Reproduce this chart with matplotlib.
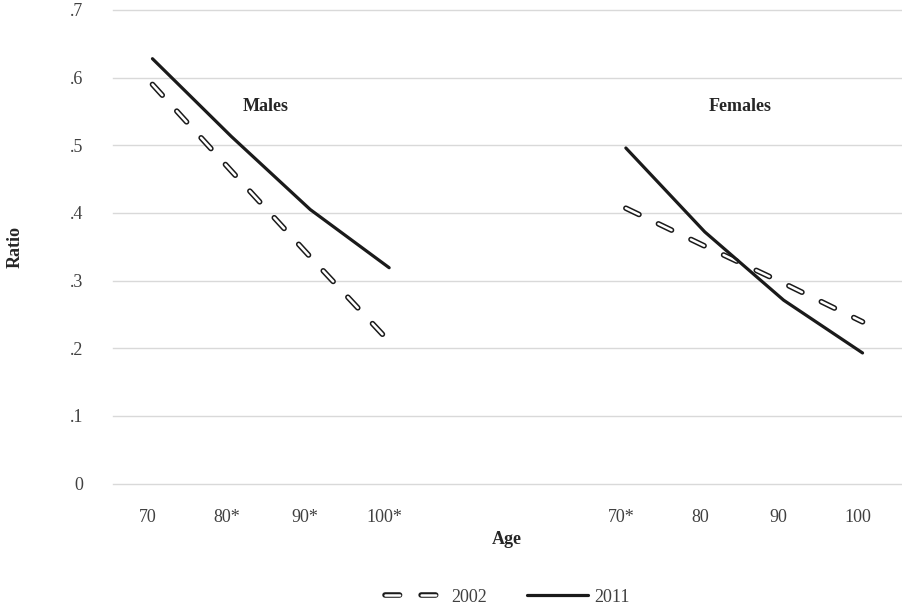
import matplotlib
matplotlib.use("Agg")
import matplotlib.pyplot as plt
import numpy as np
from matplotlib.lines import Line2D
from matplotlib.ticker import FuncFormatter
from matplotlib.transforms import ScaledTranslation

plt.rcParams['font.family'] = ['Liberation Serif', 'DejaVu Serif']
plt.rcParams['lines.scale_dashes'] = False

# ---- data ----
categories = ['70', '80*', '90*', '100*', '', '', '70*', '80', '90', '100']
male_pos = [0, 1, 2, 3]
female_pos = [6, 7, 8, 9]
males_2002 = [0.590, 0.462, 0.335, 0.210]
males_2011 = [0.628, 0.513, 0.405, 0.319]
females_2002 = [0.407, 0.351, 0.296, 0.239]
females_2011 = [0.496, 0.372, 0.271, 0.193]
yticks = [0, 0.1, 0.2, 0.3, 0.4, 0.5, 0.6, 0.7]

fig = plt.figure(figsize=(9.02, 6.12), dpi=100)
ax = fig.add_axes([113/902, 128.5/612, 789/902, 473.5/612])

dash = (0, (10.5, 15.5))
outer_lw, inner_lw = 4.0, 1.8

def dashed(x, y):
    a, = ax.plot(x, y, color='#1a1a1a', lw=outer_lw, linestyle=dash,
                 dash_capstyle='round', solid_capstyle='round', zorder=3)
    b, = ax.plot(x, y, color='white', lw=inner_lw, linestyle=dash,
                 dash_capstyle='round', solid_capstyle='round', zorder=4)
    return a, b

def solid(x, y):
    l, = ax.plot(x, y, color='#1a1a1a', lw=2.3, solid_capstyle='round', zorder=5)
    return l

h2002 = dashed(male_pos, males_2002)
dashed(female_pos, females_2002)
h2011 = solid(male_pos, males_2011)
solid(female_pos, females_2011)

ax.set_xlim(-0.5, 9.5)
ax.set_ylim(0, 0.7)
ax.set_yticks(yticks)
ax.yaxis.set_major_formatter(FuncFormatter(lambda v, p: '0' if abs(v) < 1e-9 else ('%.1f' % v)[1:]))
ax.set_xticks(range(len(categories)))
ax.set_xticklabels(categories)
ax.grid(axis='y', color='#d9d9d9', lw=1.0, zorder=0)
for gl in ax.get_ygridlines():
    gl.set_clip_on(False)
ax.set_axisbelow(True)
for s in ax.spines.values():
    s.set_visible(False)
ax.tick_params(axis='both', length=0, labelsize=13, colors='#404040')
ax.tick_params(axis='y', pad=21.6)
ax.tick_params(axis='x', pad=18)
off = ScaledTranslation(-5/100, 0, fig.dpi_scale_trans)
for lab in ax.get_xticklabels():
    lab.set_transform(lab.get_transform() + off)

ax.text(1.43, 0.558, 'Males', ha='center', va='center', fontsize=13,
        fontweight='bold', color='#262626')
ax.text(7.45, 0.558, 'Females', ha='center', va='center', fontsize=13,
        fontweight='bold', color='#262626')

fig.text(507/902, 1 - 540/612, 'Age', ha='center', va='center', fontsize=13,
         fontweight='bold', color='#262626')
fig.text(15/902, 1 - 247/612, 'Ratio', ha='center', va='center', rotation=90,
         fontsize=13, fontweight='bold', color='#262626')

leg = fig.legend([h2002, h2011], ['2002', '2011'], loc='center',
                 bbox_to_anchor=(507/902, 1 - 597/612), ncol=2, frameon=False,
                 fontsize=13, handlelength=3.4, handletextpad=0.3,
                 columnspacing=2.2, labelcolor='#404040')

fig.savefig('out.png', dpi=100)
